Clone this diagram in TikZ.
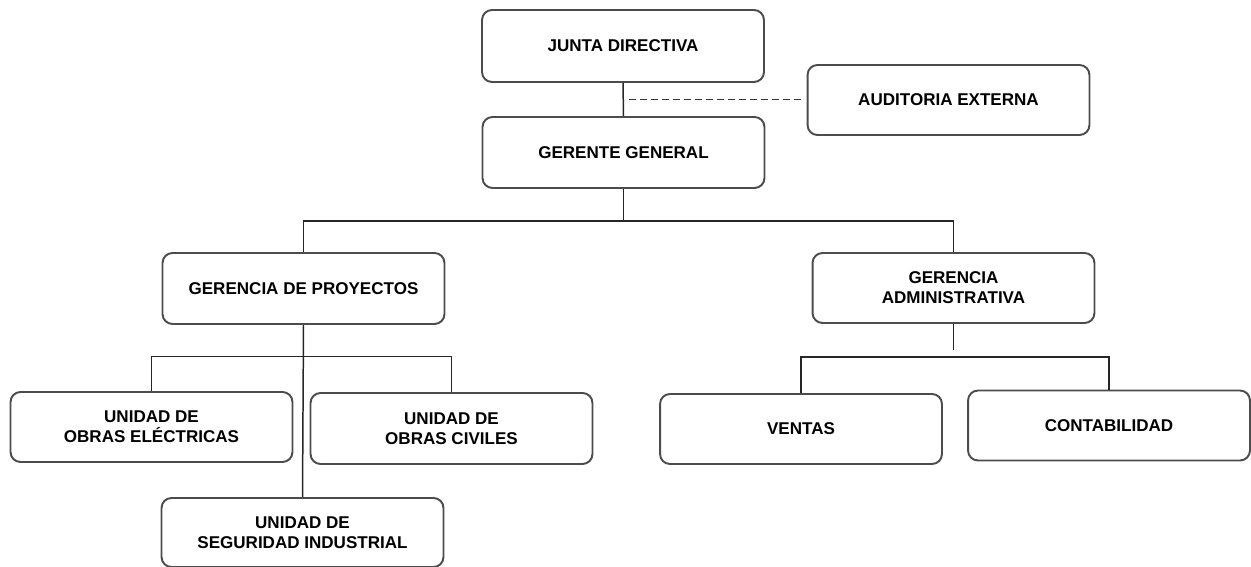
\documentclass[tikz,border=0pt]{standalone}
\usepackage{fontspec}
\setmainfont{Liberation Sans}
\usepackage{tikz}
\usetikzlibrary{calc}
\tikzset{
    caja/.style={draw=black!70, line width=1.1pt, rounded corners=0.2cm,
        minimum width=5.64cm, minimum height=1.4cm, align=center,
        font=\fontsize{9.7}{11.5}\selectfont\bfseries, inner sep=0pt},
    linea/.style={draw=black!85, line width=0.85pt},
    punteada/.style={draw=black!80, line width=1pt, dash pattern=on 0.14cm off 0.08cm},
}

\begin{document}
\begin{tikzpicture}[x=0.02cm, y=-0.02cm]
    \useasboundingbox (0,0) rectangle (1251,567);
    % cajas
    \node[caja, minimum height=1.44cm] (junta) at (623,46) {JUNTA DIRECTIVA};
    \node[caja] (auditoria) at (948.5,100) {AUDITORIA EXTERNA};
    \node[caja, minimum height=1.42cm] (gerente) at (623.5,152.5) {GERENTE GENERAL};
    \node[caja, minimum height=1.42cm] (proyectos) at (303.5,288.5) {GERENCIA DE PROYECTOS};
    \node[caja] (admin) at (953.5,288) {GERENCIA\\ADMINISTRATIVA};
    \node[caja] (electricas) at (151.5,427) {UNIDAD DE\\OBRAS ELÉCTRICAS};
    \node[caja, minimum height=1.42cm] (civiles) at (451.5,428.5) {UNIDAD DE\\OBRAS CIVILES};
    \node[caja, minimum height=1.38cm] (seguridad) at (302.5,532.5) {UNIDAD DE\\SEGURIDAD INDUSTRIAL};
    \node[caja] (ventas) at (801,429) {VENTAS};
    \node[caja] (contabilidad) at (1109,425.5) {CONTABILIDAD};
    % puntos de union
    \coordinate (inicio) at (629,99.5);
    \coordinate (fin) at (801,99.5);
    \coordinate (nivel1) at (623.5,221);
    \coordinate (nivel2) at (303,356.5);
    \coordinate (corte) at (953.5,350);
    \coordinate (nivel3) at (953.5,357);
    % conectores
    \draw[linea] (junta.south) -- (gerente.north);
    \draw[punteada] (inicio) -- (fin);
    \draw[linea] (gerente.south) -- (nivel1);
    \draw[linea] (proyectos.north) |- (nivel1) -| (admin.north);
    \draw[linea] (proyectos.south) -- (seguridad.north);
    \draw[linea] (electricas.north) |- (nivel2) -| (civiles.north);
    \draw[linea] (admin.south) -- (corte);
    \draw[linea] (ventas.north) |- (nivel3) -| (contabilidad.north);
\end{tikzpicture}
\end{document}
